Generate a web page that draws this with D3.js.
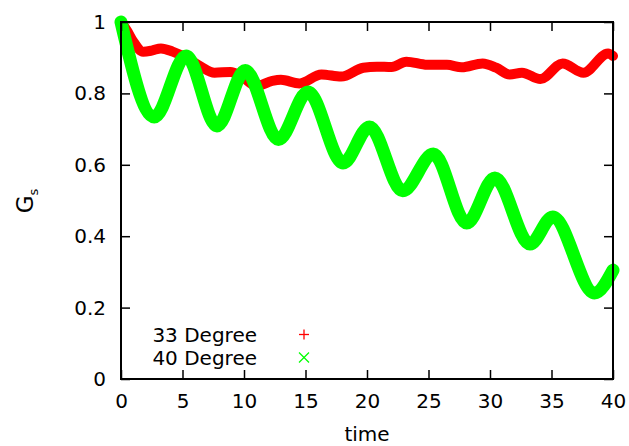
<!DOCTYPE html>
<html>
<head>
<meta charset="utf-8">
<script src="https://cdn.jsdelivr.net/npm/d3@7"></script>
<style>
  body { margin: 0; background: #fff; }
  svg { display: block; }
  text { font-family: "DejaVu Sans", sans-serif; fill: #000; }
</style>
</head>
<body>
<svg id="chart" width="629" height="446"></svg>
<script>
// G_s over time for the two tilt angles
const timeA = [0, 0.5, 1.0, 1.8, 2.5, 3.25, 4.2, 5.4, 6.5, 7.6, 8.9, 9.8, 11.0, 12.3, 13.0, 14.5, 16.3, 17.9, 19.7, 20.8, 22.0, 23.2, 24.9, 26.5, 27.7, 29.4, 30.5, 31.6, 32.6, 34.1, 35.9, 37.6, 39.6, 40.0];
const gsA   = [1.0, 0.975, 0.945, 0.917, 0.92, 0.926, 0.917, 0.898, 0.875, 0.858, 0.86, 0.848, 0.821, 0.835, 0.838, 0.828, 0.853, 0.847, 0.872, 0.875, 0.874, 0.889, 0.880, 0.880, 0.873, 0.884, 0.872, 0.853, 0.858, 0.840, 0.884, 0.858, 0.912, 0.905];

const timeB = [0, 2.7, 5.3, 7.8, 10.1, 12.8, 15.2, 18.05, 20.2, 22.9, 25.4, 28.1, 30.4, 33.25, 35.1, 38.5, 40.0];
const gsB   = [1.0, 0.734, 0.905, 0.709, 0.864, 0.671, 0.804, 0.605, 0.706, 0.527, 0.630, 0.437, 0.563, 0.378, 0.454, 0.241, 0.305];

const seriesNames = ["33 Degree", "40 Degree"];
const xTicks = [0, 5, 10, 15, 20, 25, 30, 35, 40];
const yTicks = [0, 0.2, 0.4, 0.6, 0.8, 1];
const xTitle = "time";

const colors = ["#ff0000", "#00ff00"];

const svg = d3.select("#chart");
const W = 629, H = 446;
const m = { left: 121, right: 613, top: 22, bottom: 379 };
const FS = 20;

svg.append("rect").attr("width", W).attr("height", H).attr("fill", "#fff");

const x = d3.scaleLinear().domain([0, 40]).range([m.left, m.right]);
const y = d3.scaleLinear().domain([0, 1]).range([m.bottom, m.top]);

// curves: drawn as thick bands
const line = d3.line()
  .x(d => x(d[0]))
  .y(d => y(d[1]))
  .curve(d3.curveMonotoneX);

const dataA = timeA.map((t, i) => [t, gsA[i]]);
const dataB = timeB.map((t, i) => [t, gsB[i]]);

const plot = svg.append("g");
plot.append("path").datum(dataA)
  .attr("d", line)
  .attr("fill", "none")
  .attr("stroke", colors[0])
  .attr("stroke-width", 10)
  .attr("stroke-linejoin", "round")
  .attr("stroke-linecap", "round");
plot.append("path").datum(dataB)
  .attr("d", line)
  .attr("fill", "none")
  .attr("stroke", colors[1])
  .attr("stroke-width", 13)
  .attr("stroke-linejoin", "round")
  .attr("stroke-linecap", "round");

// axes with inward ticks on all four sides
const TK = 9;
function styleAxis(g) {
  g.select(".domain").remove();
  g.selectAll(".tick line").attr("stroke", "#000").attr("stroke-width", 1.5);
  g.selectAll("text").attr("font-size", FS).attr("font-family", "DejaVu Sans, sans-serif").attr("fill", "#000");
}

svg.append("g")
  .attr("transform", `translate(0,${m.bottom})`)
  .call(d3.axisBottom(x).tickValues(xTicks).tickSize(-TK).tickPadding(15).tickFormat(d3.format("d")))
  .call(styleAxis);

svg.append("g")
  .attr("transform", `translate(0,${m.top})`)
  .call(d3.axisTop(x).tickValues(xTicks).tickSize(-TK).tickFormat(""))
  .call(styleAxis);

svg.append("g")
  .attr("transform", `translate(${m.left},0)`)
  .call(d3.axisLeft(y).tickValues(yTicks).tickSize(-TK).tickPadding(15).tickFormat(d => String(d)))
  .call(styleAxis);

svg.append("g")
  .attr("transform", `translate(${m.right},0)`)
  .call(d3.axisRight(y).tickValues(yTicks).tickSize(-TK).tickFormat(""))
  .call(styleAxis);

// frame
svg.append("rect")
  .attr("x", m.left).attr("y", m.top)
  .attr("width", m.right - m.left).attr("height", m.bottom - m.top)
  .attr("fill", "none").attr("stroke", "#000").attr("stroke-width", 2);

// axis titles
svg.append("text")
  .attr("x", (m.left + m.right) / 2).attr("y", 441)
  .attr("text-anchor", "middle").attr("font-size", FS)
  .text(xTitle);

const yl = svg.append("text")
  .attr("transform", "translate(33,201) rotate(-90)")
  .attr("text-anchor", "middle").attr("font-size", 23);
yl.append("tspan").text("G");
yl.append("tspan").attr("font-size", 13).attr("dy", 5).text("s");

// key
const key = svg.append("g");
seriesNames.forEach((name, i) => {
  const by = 342 + i * 23;
  key.append("text")
    .attr("x", 257).attr("y", by)
    .attr("text-anchor", "end").attr("font-size", FS)
    .text(name);
  const cx = 304, cy = by - 7.5, r = 5;
  const g = key.append("g").attr("stroke", colors[i]).attr("stroke-width", 1.3);
  if (i === 0) {
    g.append("line").attr("x1", cx - r).attr("x2", cx + r).attr("y1", cy).attr("y2", cy);
    g.append("line").attr("x1", cx).attr("x2", cx).attr("y1", cy - r).attr("y2", cy + r);
  } else {
    g.append("line").attr("x1", cx - r).attr("x2", cx + r).attr("y1", cy - r).attr("y2", cy + r);
    g.append("line").attr("x1", cx - r).attr("x2", cx + r).attr("y1", cy + r).attr("y2", cy - r);
  }
});
</script>
</body>
</html>
